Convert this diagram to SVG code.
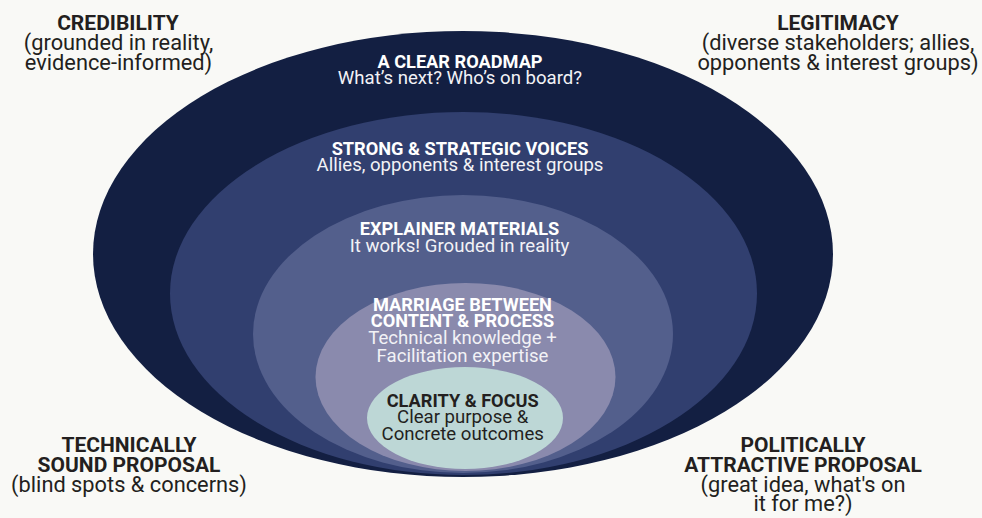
<svg xmlns="http://www.w3.org/2000/svg" width="982" height="518" viewBox="0 0 982 518">
<style>
text{font-family:Roboto,"Liberation Sans",sans-serif;text-anchor:middle}
.cb{font-size:21px;font-weight:700;fill:#231f20}
.cr{font-size:21.8px;fill:#231f20}
.ib{font-size:18.2px;font-weight:700;fill:#ffffff}
.ir{font-size:18.6px;fill:#f2f2f6}
.db{font-size:18.2px;font-weight:700;fill:#231f20}
.dr{font-size:18.6px;fill:#231f20}
</style>
<rect width="982" height="518" fill="#f9f9f6"/>
<g id="ring1">
<ellipse cx="463" cy="254" rx="370" ry="223" fill="#131f42"/>
<text class="ib" x="460" y="68">A CLEAR ROADMAP</text>
<text class="ir" x="460" y="84">What’s next? Who’s on board?</text>
</g>
<g id="ring2">
<ellipse cx="463.5" cy="293.5" rx="293.5" ry="181.5" fill="#313f6f"/>
<text class="ib" x="460" y="154.5">STRONG &amp; STRATEGIC VOICES</text>
<text class="ir" x="460" y="170.7">Allies, opponents &amp; interest groups</text>
</g>
<g id="ring3">
<ellipse cx="463" cy="334" rx="210" ry="139" fill="#535f8c"/>
<text class="ib" x="459.5" y="235">EXPLAINER MATERIALS</text>
<text class="ir" x="459.5" y="251.7">It works! Grouded in reality</text>
</g>
<g id="ring4">
<ellipse cx="465.5" cy="377" rx="150" ry="94" fill="#8a8aad"/>
<text class="ib" x="462.5" y="310.7">MARRIAGE BETWEEN</text>
<text class="ib" x="462.5" y="327">CONTENT &amp; PROCESS</text>
<text class="ir" x="462.5" y="344.3">Technical knowledge +</text>
<text class="ir" x="462.5" y="361.7">Facilitation expertise</text>
</g>
<g id="core">
<ellipse cx="465" cy="418" rx="98" ry="51" fill="#bdd7d6"/>
<text class="db" x="462.7" y="406.7">CLARITY &amp; FOCUS</text>
<text class="dr" x="462.7" y="423.3">Clear purpose &amp;</text>
<text class="dr" x="462.7" y="440">Concrete outcomes</text>
</g>
<g id="credibility">
<text class="cb" x="118" y="29.5">CREDIBILITY</text>
<text class="cr" x="118.5" y="50">(grounded in reality,</text>
<text class="cr" x="118.5" y="69.5">evidence-informed)</text>
</g>
<g id="legitimacy">
<text class="cb" x="838" y="29.5">LEGITIMACY</text>
<text class="cr" x="838" y="50">(diverse stakeholders; allies,</text>
<text class="cr" x="838" y="69.5">opponents &amp; interest groups)</text>
</g>
<g id="technical">
<text class="cb" x="129" y="451.7">TECHNICALLY</text>
<text class="cb" x="129" y="471.7">SOUND PROPOSAL</text>
<text class="cr" x="129" y="491.7">(blind spots &amp; concerns)</text>
</g>
<g id="political">
<text class="cb" x="803" y="451.7">POLITICALLY</text>
<text class="cb" x="803" y="471.7">ATTRACTIVE PROPOSAL</text>
<text class="cr" x="803" y="491.7">(great idea, what's on</text>
<text class="cr" x="803" y="511">it for me?)</text>
</g>
<g id="connectors"/>
</svg>
